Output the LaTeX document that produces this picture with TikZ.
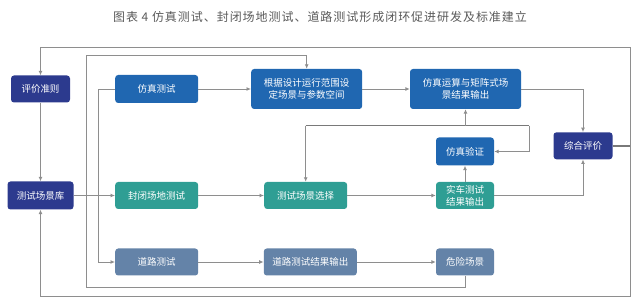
\documentclass[tikz,border=0pt]{standalone}
\usepackage{fontspec}
\setmainfont{Noto Sans CJK SC}
\usetikzlibrary{arrows.meta}

\definecolor{navyc}{HTML}{2C3A8E}
\definecolor{bluec}{HTML}{2067B1}
\definecolor{tealc}{HTML}{2F9E94}
\definecolor{slatec}{HTML}{6483A8}
\definecolor{linec}{HTML}{8E8E8E}
\definecolor{titlec}{HTML}{5A5A5A}

\begin{document}
\begin{tikzpicture}[x=1pt, y=-1pt,
    box/.style={rounded corners=3pt, text=white, align=center,
      font=\fontsize{9.5}{12}\selectfont, inner sep=1pt},
    navybox/.style={box, fill=navyc},
    bluebox/.style={box, fill=bluec},
    tealbox/.style={box, fill=tealc},
    slatebox/.style={box, fill=slatec},
    link/.style={draw=linec, line width=0.9pt},
    arr/.style={link, -{Latex[length=4.5pt,width=4pt]}},
    busline/.style={draw=linec!85!black, line width=1.5pt}]
  \useasboundingbox (0,0) rectangle (641,307);

  % title
  \node[text=titlec, font=\fontsize{12}{14}\selectfont\addfontfeature{LetterSpace=8}]
    (biaoti) at (320,17) {图表 4 仿真测试、封闭场地测试、道路测试形成闭环促进研发及标准建立};

  % left column
  \node[navybox, minimum width=59, minimum height=27] (pingjia) at (40.5,89) {评价准则};
  \node[navybox, minimum width=66, minimum height=28] (kuku) at (40.5,195.5) {测试场景库};

  % simulation row
  \node[bluebox, minimum width=83, minimum height=28] (fangzhen) at (156.7,89) {仿真测试};
  \node[bluebox, minimum width=111, minimum height=40] (sheding) at (306.7,89) {根据设计运行范围设\\定场景与参数空间};
  \node[bluebox, minimum width=111, minimum height=40] (yunsuan) at (465.5,89) {仿真运算与矩阵式场\\景结果输出};
  \node[bluebox, minimum width=58, minimum height=28] (yanzheng) at (465,151.5) {仿真验证};
  \node[navybox, minimum width=59, minimum height=27] (zonghe) at (583,145.8) {综合评价};

  % closed field row
  \node[tealbox, minimum width=83, minimum height=27] (fengbi) at (156.7,195.5) {封闭场地测试};
  \node[tealbox, minimum width=83, minimum height=27] (xuanze) at (305.7,195.5) {测试场景选择};
  \node[tealbox, minimum width=58, minimum height=27] (shiche) at (465,195.5) {实车测试\\结果输出};

  % road row
  \node[slatebox, minimum width=83, minimum height=27] (daolu) at (156.7,262) {道路测试};
  \node[slatebox, minimum width=93, minimum height=27] (shuchu) at (310.3,262) {道路测试结果输出};
  \node[slatebox, minimum width=58, minimum height=27] (weixian) at (465,262) {危险场景};

  \coordinate (topR) at (630,47.3);
  \coordinate (botR) at (630,296);
  \coordinate (loopBL) at (86.7,287.3);
  \coordinate (loopTL) at (86.7,55.7);
  \coordinate (busL) at (305.7,125.7);
  \coordinate (busR) at (529.3,125.7);

  \draw[arr] (fangzhen) -- (sheding);
  \draw[arr] (sheding) -- (yunsuan);
  \draw[arr] (yunsuan.east) -| (zonghe.north);
  \draw[arr] (shiche.east) -| (zonghe.south);
  \draw[arr] (kuku) -- (fengbi);
  \draw[arr] (fengbi) -- (xuanze);
  \draw[arr] (xuanze) -- (shiche);
  \draw[arr] (daolu) -- (shuchu);
  \draw[arr] (shuchu) -- (weixian);
  \draw[arr] (pingjia) -- (kuku);
  \draw[arr, {Latex[length=4.5pt,width=4pt]}-] (yanzheng) -- (shiche);

  % branch to road test
  \draw[arr] (fangzhen.west) -- ++(-16.7,0) |- (daolu.west);

  % verification bus
  \draw[busline] (busL) -- (busR);
  \draw[arr] (busL) -- (xuanze.north);
  \draw[arr] (busR) |- (yanzheng.east);
  \draw[arr] (yunsuan.south |- busL) -- (yunsuan.south);

  % dangerous scenes back to scenario space
  \draw[arr] (weixian.south) |- (loopBL) -- (loopTL) -| (sheding.north);

  % outer loop
  \draw[busline] (zonghe.east) -- (zonghe.east -| topR);
  \draw[arr] (topR) -- (botR) -| (kuku.south);
  \draw[arr] (topR) -| (pingjia.north);
\end{tikzpicture}
\end{document}
